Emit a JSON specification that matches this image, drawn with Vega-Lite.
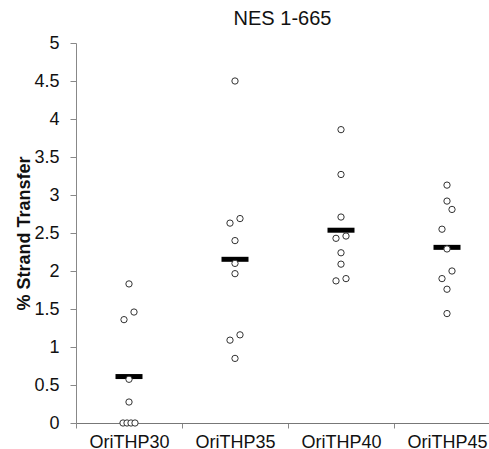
{
  "$schema": "https://vega.github.io/schema/vega-lite/v6.json",
  "width": 413,
  "height": 380,
  "autosize": {"type": "none"},
  "padding": {"left": 76, "top": 43, "right": 0, "bottom": 26},
  "background": "white",
  "config": {
    "view": {"stroke": null},
    "font": "Liberation Sans",
    "axis": {"grid": false, "domainColor": "#888888", "tickColor": "#888888", "labelColor": "#111111", "labelFont": "Liberation Sans"}
  },
  "title": {"text": "NES 1-665", "fontSize": 20, "fontWeight": "normal", "font": "Liberation Sans", "color": "#111111", "anchor": "middle", "offset": 5},
  "data": {
    "values": [
      {"group": "OriTHP30", "value": 1.83, "slot": 0},
      {"group": "OriTHP30", "value": 1.36, "slot": -1},
      {"group": "OriTHP30", "value": 1.46, "slot": 1},
      {"group": "OriTHP30", "value": 0.575, "slot": 0},
      {"group": "OriTHP30", "value": 0.276, "slot": 0},
      {"group": "OriTHP30", "value": 0, "slot": -1.2},
      {"group": "OriTHP30", "value": 0, "slot": -0.4},
      {"group": "OriTHP30", "value": 0, "slot": 0.4},
      {"group": "OriTHP30", "value": 0, "slot": 1.2},
      {"group": "OriTHP35", "value": 4.5, "slot": 0},
      {"group": "OriTHP35", "value": 2.63, "slot": -1},
      {"group": "OriTHP35", "value": 2.69, "slot": 1},
      {"group": "OriTHP35", "value": 2.4, "slot": 0},
      {"group": "OriTHP35", "value": 2.1, "slot": 0},
      {"group": "OriTHP35", "value": 1.965, "slot": 0},
      {"group": "OriTHP35", "value": 1.09, "slot": -1},
      {"group": "OriTHP35", "value": 1.16, "slot": 1},
      {"group": "OriTHP35", "value": 0.85, "slot": 0},
      {"group": "OriTHP40", "value": 3.86, "slot": 0},
      {"group": "OriTHP40", "value": 3.27, "slot": 0},
      {"group": "OriTHP40", "value": 2.71, "slot": 0},
      {"group": "OriTHP40", "value": 2.43, "slot": -1},
      {"group": "OriTHP40", "value": 2.46, "slot": 1},
      {"group": "OriTHP40", "value": 2.24, "slot": 0},
      {"group": "OriTHP40", "value": 2.09, "slot": 0},
      {"group": "OriTHP40", "value": 1.87, "slot": -1},
      {"group": "OriTHP40", "value": 1.9, "slot": 1},
      {"group": "OriTHP45", "value": 3.13, "slot": 0},
      {"group": "OriTHP45", "value": 2.92, "slot": 0},
      {"group": "OriTHP45", "value": 2.81, "slot": 1},
      {"group": "OriTHP45", "value": 2.55, "slot": -1},
      {"group": "OriTHP45", "value": 2.29, "slot": 0},
      {"group": "OriTHP45", "value": 2.0, "slot": 1},
      {"group": "OriTHP45", "value": 1.9, "slot": -1},
      {"group": "OriTHP45", "value": 1.76, "slot": 0},
      {"group": "OriTHP45", "value": 1.44, "slot": 0}
    ]
  },
  "encoding": {
    "x": {
      "field": "group", "type": "nominal",
      "scale": {"range": [0, 424], "paddingInner": 0, "paddingOuter": 0},
      "axis": {"title": null, "labelAngle": 0, "labelFontSize": 18, "tickBand": "extent", "tickSize": 5, "labelBaseline": "alphabetic", "labelPadding": 19, "domainColor": "#777777"}
    },
    "y": {
      "field": "value", "type": "quantitative",
      "scale": {"domain": [0, 5], "nice": false},
      "axis": {
        "title": "% Strand Transfer", "titleFontSize": 18, "titleFontWeight": "bold", "titleColor": "#111111", "titlePadding": 0,
        "values": [0, 0.5, 1, 1.5, 2, 2.5, 3, 3.5, 4, 4.5, 5],
        "labelExpr": "'' + datum.value", "labelFontSize": 18, "tickSize": 6, "labelPadding": 11
      }
    }
  },
  "layer": [
    {
      "mark": {"type": "tick", "color": "black", "thickness": 5, "size": 27, "orient": "horizontal", "opacity": 1},
      "encoding": {"y": {"aggregate": "mean", "field": "value", "type": "quantitative"}}
    },
    {
      "mark": {"type": "point", "shape": "circle", "filled": false, "fill": "white", "fillOpacity": 1, "stroke": "#333333", "strokeWidth": 1, "size": 40, "opacity": 1},
      "encoding": {
        "xOffset": {"field": "slot", "type": "quantitative", "scale": {"domain": [-1, 1], "range": [48, 58], "zero": false}}
      }
    }
  ]
}
